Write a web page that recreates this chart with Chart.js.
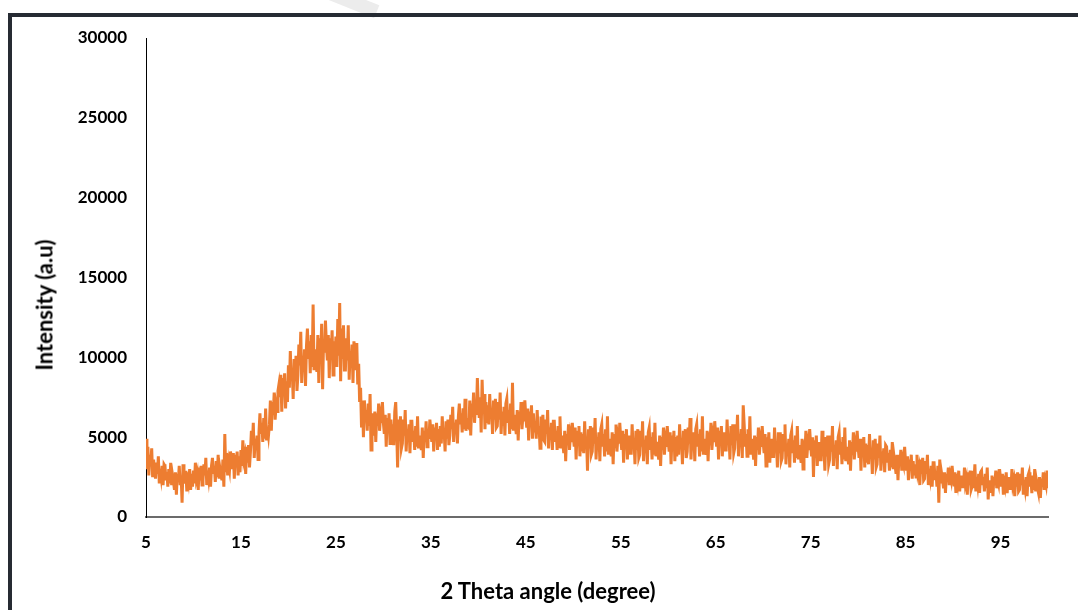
<!DOCTYPE html>
<html>
<head>
<meta charset="utf-8">
<title>XRD pattern</title>
<script src="https://cdn.jsdelivr.net/npm/chart.js@4.4.1/dist/chart.umd.min.js"></script>
<style>
    html, body { margin: 0; padding: 0; background: #fff; overflow: hidden; }
    #wrap { position: relative; width: 1078px; height: 610px; }
    #frameLeft { position: absolute; left: 8px; top: 13px; width: 4px; height: 597px; background: #262b33; }
    #frameTop { position: absolute; left: 8px; top: 13px; width: 1070px; height: 4px; background: #262b33; }
    #mark { position: absolute; left: 290px; top: -12px; width: 90px; height: 14px; background: #ececec; transform: rotate(22deg); }
    .axis-title { position: absolute; font-family: Lato, "Open Sans", sans-serif; font-weight: bold; font-size: 22px; color: #000; white-space: nowrap; }
    #yTitle { left: 44px; top: 305px; transform: translate(-50%, -50%) rotate(-90deg); }
    #xTitle { left: 548px; top: 590px; transform: translate(-50%, -50%); }
    #chartBox { position: absolute; left: 0; top: 0; width: 1078px; height: 610px; }
</style>
</head>
<body>
<div id="wrap">
    <div id="mark"></div>
    <div id="chartBox"><canvas id="xrdChart"></canvas></div>
    <div id="frameLeft"></div>
    <div id="frameTop"></div>
    <div class="axis-title" id="yTitle">Intensity (a.u)</div>
    <div class="axis-title" id="xTitle">2 Theta angle (degree)</div>
</div>
<script>
// 2 theta sampling: start 5 deg, one reading every 0.1 deg up to 100
const angleStart = 5;
const angleStep = 0.1;

// intensity readings, one row per degree (10 readings each)
const intensity = [
    4900, 3000, 4400, 2600, 3900, 3200, 4300, 2500, 3600, 2900,
    2400, 3400, 2700, 3800, 2100, 3000, 2500, 3200, 2000, 3300,
    3200, 2300, 2800, 1900, 3000, 2100, 3400, 2000, 2600, 2200,
    1700, 2800, 1400, 2700, 2200, 3200, 2000, 2600, 900, 3300,
    2600, 2100, 2900, 1600, 2800, 2300, 3000, 1700, 2700, 1900,
    2900, 2100, 3400, 2400, 2700, 1700, 3100, 2300, 3200, 2000,
    2300, 3300, 2600, 3700, 2000, 2900, 2400, 3100, 1900, 3200,
    3700, 2700, 3200, 2200, 3500, 2500, 3900, 2400, 3000, 2600,
    2300, 3600, 1900, 5200, 2800, 4000, 2600, 3400, 3000, 4100,
    3600, 3000, 4000, 2400, 3900, 3300, 4100, 2600, 3800, 2800,
    4200, 3200, 4800, 3600, 3900, 2700, 4400, 3400, 4500, 3100,
    4100, 5400, 4500, 5900, 3700, 4900, 4200, 5100, 3600, 5300,
    6500, 5200, 5900, 4700, 6200, 4900, 6800, 4800, 5600, 5100,
    5800, 7300, 5400, 7200, 6400, 7800, 6100, 7000, 6600, 7900,
    8300, 7500, 8900, 6600, 8700, 7800, 9000, 6800, 8500, 7200,
    9500, 8100, 10400, 8600, 9200, 7400, 9900, 8500, 10100, 7900,
    8900, 10800, 9500, 11600, 8400, 10100, 9100, 10500, 8200, 10700,
    11800, 9900, 11000, 9000, 11400, 9400, 13300, 9200, 10500, 9600,
    9100, 11400, 8400, 11200, 10000, 12100, 8000, 11000, 10300, 12300,
    10800, 9800, 11400, 8700, 11200, 10200, 11700, 8900, 11000, 9400,
    11300, 9400, 12400, 10100, 13400, 8500, 11800, 9900, 12000, 9200,
    9200, 11200, 9800, 12000, 8600, 10400, 9400, 10800, 8400, 11000,
    10400, 9200, 10900, 8300, 9600, 7200, 8100, 5600, 7300, 5000,
    7300, 6000, 6700, 5400, 7100, 5700, 7700, 4200, 6500, 5800,
    5100, 6600, 4700, 6500, 5700, 7100, 5400, 6300, 5900, 7200,
    5900, 5200, 6400, 4400, 6200, 5500, 6500, 4600, 6100, 4900,
    5800, 4500, 6600, 7200, 5500, 3100, 6100, 4800, 6300, 4300,
    4600, 6100, 5100, 6700, 4100, 5500, 4800, 5800, 4000, 6000,
    6000, 4700, 5400, 4200, 5700, 4400, 6300, 4300, 5100, 4600,
    4200, 5600, 3700, 5400, 4700, 6000, 4400, 5300, 4900, 6100,
    5400, 4700, 5800, 4100, 5600, 5000, 5900, 4200, 5500, 4400,
    5700, 4600, 6300, 5000, 5400, 4100, 6000, 4900, 6100, 4500,
    5100, 6400, 5500, 6900, 4700, 5900, 5200, 6100, 4600, 6300,
    7100, 5800, 6500, 5300, 6800, 5500, 7400, 5400, 6200, 5700,
    5600, 7300, 5100, 7100, 6300, 7800, 5900, 7000, 6400, 8700,
    7000, 6200, 7500, 5300, 8600, 6500, 7700, 5500, 7200, 5900,
    7000, 5800, 7700, 6200, 6700, 5200, 7300, 6100, 7400, 5600,
    5700, 7200, 6100, 7800, 5200, 6600, 5800, 6900, 5100, 7100,
    7400, 5900, 6700, 5200, 7100, 5500, 8400, 5400, 6400, 5700,
    5200, 6700, 4800, 6600, 5800, 7200, 5500, 6400, 6000, 7300,
    6300, 5600, 6800, 4800, 6600, 5900, 7000, 4900, 6500, 5300,
    6000, 4900, 6700, 5300, 5700, 4300, 6300, 5200, 6400, 4800,
    4700, 6100, 5200, 6700, 4300, 5600, 4900, 5900, 4200, 6000,
    6000, 4700, 5400, 4200, 5700, 4400, 6300, 4300, 5100, 4600,
    4000, 5400, 3500, 5200, 4500, 5800, 4200, 5100, 4700, 5900,
    5100, 4400, 5600, 3600, 5400, 4700, 5700, 3800, 5300, 4100,
    5200, 4000, 6000, 4500, 4900, 2900, 5500, 4300, 5700, 3900,
    4100, 5600, 4600, 6200, 3600, 5000, 4300, 5300, 3500, 5500,
    5800, 4400, 5200, 3800, 5500, 4100, 6300, 3900, 4900, 4300,
    3800, 5300, 3300, 5200, 4400, 5800, 4100, 5000, 4600, 5900,
    4900, 4200, 5400, 3400, 5200, 4500, 5500, 3600, 5100, 3900,
    5100, 3900, 5800, 4300, 4800, 3300, 5400, 4200, 5500, 3700,
    3900, 5400, 4400, 6000, 3500, 4800, 4100, 5100, 3300, 5300,
    5600, 4200, 5000, 3600, 5300, 3900, 5900, 3800, 4700, 4100,
    3600, 5100, 3200, 5000, 4200, 5600, 3900, 4800, 4400, 5700,
    4800, 4100, 5300, 3300, 5100, 4400, 5400, 3500, 5000, 3800,
    5100, 3900, 5800, 4300, 4800, 3300, 5400, 4200, 5500, 3700,
    4100, 5600, 4600, 6200, 3600, 5000, 4300, 5300, 3500, 5500,
    5800, 4400, 5200, 3800, 5500, 4100, 6300, 3900, 4900, 4300,
    3900, 5400, 3500, 5300, 4500, 5900, 4200, 5100, 4700, 6000,
    5100, 4400, 5600, 3600, 5400, 4700, 5700, 3800, 5300, 4100,
    5300, 4100, 6100, 4600, 5100, 3600, 5700, 4500, 5800, 4000,
    4300, 5800, 4800, 6400, 3800, 5200, 4500, 5500, 3700, 7000,
    5800, 4400, 5200, 3800, 5500, 4100, 6300, 3900, 4900, 4300,
    3600, 5100, 3200, 5000, 4200, 5600, 3900, 4800, 4400, 5700,
    4700, 4000, 5200, 3200, 5000, 4300, 5300, 3400, 4900, 3700,
    4900, 3700, 5600, 4100, 4600, 3100, 5300, 4000, 5300, 3500,
    3700, 5200, 4200, 5800, 3300, 4600, 3900, 4900, 3100, 5100,
    5400, 4000, 4800, 3400, 5100, 3700, 5700, 3600, 4500, 3900,
    3400, 4900, 3000, 4800, 4000, 5400, 3700, 4600, 4200, 5500,
    4500, 3800, 5000, 2500, 4800, 4100, 5100, 3200, 4700, 3500,
    4700, 3500, 5400, 3900, 4400, 2900, 5000, 3800, 5100, 3300,
    3600, 5100, 4100, 5700, 3200, 4500, 3800, 4800, 3000, 5000,
    5300, 3900, 4700, 3300, 5000, 3600, 5600, 3500, 4400, 3800,
    3300, 4800, 2900, 4700, 3900, 5300, 3600, 4500, 4100, 5400,
    4400, 3700, 4900, 2900, 4700, 4000, 5000, 3100, 4600, 3400,
    4500, 3300, 5200, 3700, 4200, 2700, 4800, 3600, 4900, 3100,
    3300, 4600, 3700, 5100, 2900, 4100, 3400, 4300, 2800, 4500,
    4400, 3400, 4000, 2900, 4200, 3100, 4700, 3000, 3700, 3200,
    2700, 3900, 2300, 3800, 3200, 4200, 2900, 3600, 3300, 4400,
    3400, 2900, 3800, 2300, 3600, 3100, 3900, 2400, 3500, 2600,
    3300, 2500, 3900, 2800, 3100, 2000, 3600, 2700, 3700, 2300,
    2400, 3500, 2700, 3900, 2000, 3000, 2500, 3200, 1900, 3400,
    3400, 2400, 2900, 1900, 3200, 900, 3600, 2100, 2700, 2300,
    1800, 2800, 1500, 2700, 2200, 3100, 2000, 2600, 2300, 3200,
    2500, 2000, 2800, 1500, 2700, 2200, 2900, 1600, 2600, 1800,
    2600, 1800, 3100, 2100, 2400, 1400, 2800, 2000, 2900, 1700,
    1900, 2900, 2200, 3300, 1600, 2500, 2000, 2700, 1500, 2800,
    2900, 2000, 2500, 1600, 2700, 1800, 3100, 1100, 2300, 1900,
    1600, 2600, 1300, 2500, 2000, 2900, 1800, 2400, 2100, 3000,
    2400, 1900, 2700, 1400, 2600, 2100, 2800, 1500, 2500, 1700,
    2500, 1700, 3000, 2000, 2300, 1300, 2700, 1900, 2800, 1600,
    1700, 2700, 2000, 3100, 1400, 2300, 1800, 2500, 1300, 2600,
    2800, 1900, 2400, 1500, 2600, 1700, 3000, 1600, 2200, 1800,
    1500, 2500, 1200, 2400, 1900, 2800, 1700, 2300, 2000, 2900,
    1800
];

const xTickValues = [5, 15, 25, 35, 45, 55, 65, 75, 85, 95];
const yMax = 30000;
const yStep = 5000;

const tickFont = { family: 'Lato, "Open Sans", sans-serif', size: 17, weight: 'bold' };

const XrdChart = {
    init() {
        const ctx = document.getElementById('xrdChart').getContext('2d');
        const points = intensity.map((v, i) => ({ x: +(angleStart + i * angleStep).toFixed(2), y: v }));

        new Chart(ctx, {
            type: 'line',
            data: {
                datasets: [{
                    data: points,
                    borderColor: '#ED7D31',
                    borderWidth: 3,
                    pointRadius: 0,
                    tension: 0,
                    fill: false
                }]
            },
            options: {
                responsive: true,
                maintainAspectRatio: false,
                animation: false,
                layout: { padding: { left: 0, top: 38, right: 30, bottom: 0 } },
                plugins: {
                    legend: { display: false },
                    tooltip: { enabled: false }
                },
                scales: {
                    x: {
                        type: 'linear',
                        min: 5,
                        max: 100,
                        grid: { display: false, drawTicks: false },
                        border: { display: true, color: '#6b6b6b', width: 2 },
                        afterBuildTicks: (scale) => {
                            scale.ticks = xTickValues.map(v => ({ value: v }));
                        },
                        afterFit: (scale) => { scale.height = 93; },
                        ticks: {
                            color: '#000',
                            font: tickFont,
                            padding: 15,
                            maxRotation: 0,
                            autoSkip: false,
                            callback: (value) => String(value)
                        }
                    },
                    y: {
                        min: 0,
                        max: yMax,
                        grid: { display: false, drawTicks: false },
                        border: { display: true, color: '#000', width: 1 },
                        afterFit: (scale) => { scale.width = 146; },
                        ticks: {
                            stepSize: yStep,
                            color: '#000',
                            font: tickFont,
                            padding: 19,
                            callback: (value) => String(value)
                        }
                    }
                }
            }
        });
    }
};

document.addEventListener('DOMContentLoaded', () => XrdChart.init());
</script>
</body>
</html>
